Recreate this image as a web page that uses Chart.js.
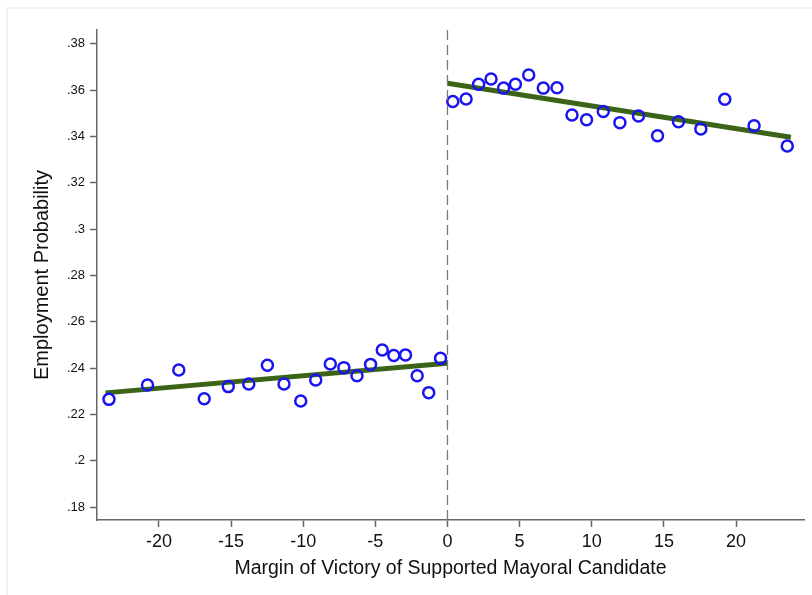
<!DOCTYPE html>
<html>
<head>
<meta charset="utf-8">
<script src="https://cdn.jsdelivr.net/npm/chart.js@4"></script>
<style>
  html, body { margin: 0; padding: 0; background: #fff; }
  #wrap { width: 812px; height: 595px; position: relative; }
</style>
</head>
<body>
<div id="wrap"><canvas id="rdChart" width="812" height="595"></canvas></div>
<script>
// binned means, losing side of the race
const leftX = [-23.46, -20.79, -18.62, -16.86, -15.19, -13.77, -12.48, -11.33, -10.17, -9.13,
               -8.12, -7.18, -6.27, -5.33, -4.52, -3.72, -2.91, -2.10, -1.30, -0.48];
const leftY = [0.2265, 0.2327, 0.2392, 0.2268, 0.2320, 0.2331, 0.2412, 0.2331, 0.2258, 0.2349,
               0.2418, 0.2402, 0.2367, 0.2416, 0.2478, 0.2454, 0.2457, 0.2367, 0.2294, 0.2442];

// binned means, winning side
const rightX = [0.37, 1.29, 2.16, 3.02, 3.89, 4.71, 5.63, 6.64, 7.59, 8.63,
                9.64, 10.80, 11.95, 13.24, 14.56, 16.01, 17.56, 19.22, 21.25, 23.55];
const rightY = [0.3551, 0.3562, 0.3626, 0.3648, 0.3609, 0.3626, 0.3666, 0.3609, 0.3611, 0.3493,
                0.3472, 0.3508, 0.3460, 0.3489, 0.3403, 0.3464, 0.3433, 0.3561, 0.3446, 0.3359];

// linear fits on each side
const leftFitX = [-23.7, 0];
const leftFitY = [0.2293, 0.2421];
const rightFitX = [0, 23.8];
const rightFitY = [0.3630, 0.3397];

// axes
const xTicks = [-20, -15, -10, -5, 0, 5, 10, 15, 20];
const yTicks = [0.18, 0.20, 0.22, 0.24, 0.26, 0.28, 0.30, 0.32, 0.34, 0.36, 0.38];
const xMin = -24.29, xMax = 24.71;
const yMin = 0.1744, yMax = 0.386;
const cutoffX = [0, 0];
const cutoffY = [yMin, yMax];

const zip = (xs, ys) => xs.map((x, i) => ({ x: x, y: ys[i] }));

const fmtY = v => {
    let s = (+v.toFixed(2)).toString();
    return s.replace(/^0\./, '.');
};

const FONT = 'Liberation Sans, Arial, Helvetica, sans-serif';

const frame = {
    id: 'frame',
    beforeDraw(chart) {
        const ctx = chart.ctx;
        ctx.save();
        ctx.strokeStyle = '#eef1f1';
        ctx.lineWidth = 1.5;
        ctx.beginPath();
        ctx.moveTo(7, 595);
        ctx.lineTo(7, 8);
        ctx.lineTo(812, 8);
        ctx.stroke();
        ctx.restore();
    }
};

const ctx = document.getElementById('rdChart').getContext('2d');
new Chart(ctx, {
    type: 'scatter',
    data: {
        datasets: [{
            label: 'cutoff',
            data: zip(cutoffX, cutoffY),
            showLine: true,
            borderColor: '#7a7a7a',
            borderWidth: 1.3,
            borderDash: [10, 5],
            pointRadius: 0
        }, {
            label: 'left bins',
            data: zip(leftX, leftY),
            pointStyle: 'circle',
            pointRadius: 5.5,
            pointBorderWidth: 2.5,
            pointBorderColor: '#1a14f0',
            pointBackgroundColor: 'rgba(0,0,0,0)'
        }, {
            label: 'right bins',
            data: zip(rightX, rightY),
            pointStyle: 'circle',
            pointRadius: 5.5,
            pointBorderWidth: 2.5,
            pointBorderColor: '#1a14f0',
            pointBackgroundColor: 'rgba(0,0,0,0)'
        }, {
            label: 'left fit',
            data: zip(leftFitX, leftFitY),
            showLine: true,
            borderColor: '#3b6416',
            borderWidth: 5,
            pointRadius: 0
        }, {
            label: 'right fit',
            data: zip(rightFitX, rightFitY),
            showLine: true,
            borderColor: '#3b6416',
            borderWidth: 5,
            pointRadius: 0
        }]
    },
    options: {
        responsive: false,
        animation: false,
        layout: { padding: { left: 0, top: 30, right: 7, bottom: 0 } },
        plugins: {
            legend: { display: false },
            tooltip: { enabled: false }
        },
        scales: {
            x: {
                type: 'linear',
                min: xMin,
                max: xMax,
                afterFit: s => { s.height = 75; },
                afterBuildTicks: s => { s.ticks = xTicks.map(v => ({ value: v })); },
                grid: { drawOnChartArea: false, drawTicks: true, tickLength: 7, tickWidth: 1.5, tickColor: '#666' },
                border: { display: true, color: '#666', width: 1.5 },
                ticks: {
                    color: '#111',
                    padding: 4,
                    maxRotation: 0,
                    font: { family: FONT, size: 18 },
                    callback: v => v
                },
                title: {
                    display: true,
                    text: 'Margin of Victory of Supported Mayoral Candidate',
                    color: '#111',
                    font: { family: FONT, size: 19.5 },
                    padding: { top: 0, bottom: 15 }
                }
            },
            y: {
                type: 'linear',
                min: yMin,
                max: yMax,
                afterFit: s => { s.width = 97; },
                afterBuildTicks: s => { s.ticks = yTicks.map(v => ({ value: v })); },
                grid: { drawOnChartArea: false, drawTicks: true, tickLength: 7, tickWidth: 1.5, tickColor: '#666' },
                border: { display: true, color: '#666', width: 1.5 },
                ticks: {
                    color: '#111',
                    padding: 5,
                    font: { family: FONT, size: 13 },
                    callback: v => fmtY(v)
                },
                title: {
                    display: true,
                    text: 'Employment Probability',
                    color: '#111',
                    font: { family: FONT, size: 20 },
                    padding: { top: 30, bottom: 0 }
                }
            }
        }
    },
    plugins: [frame]
});
</script>
</body>
</html>
